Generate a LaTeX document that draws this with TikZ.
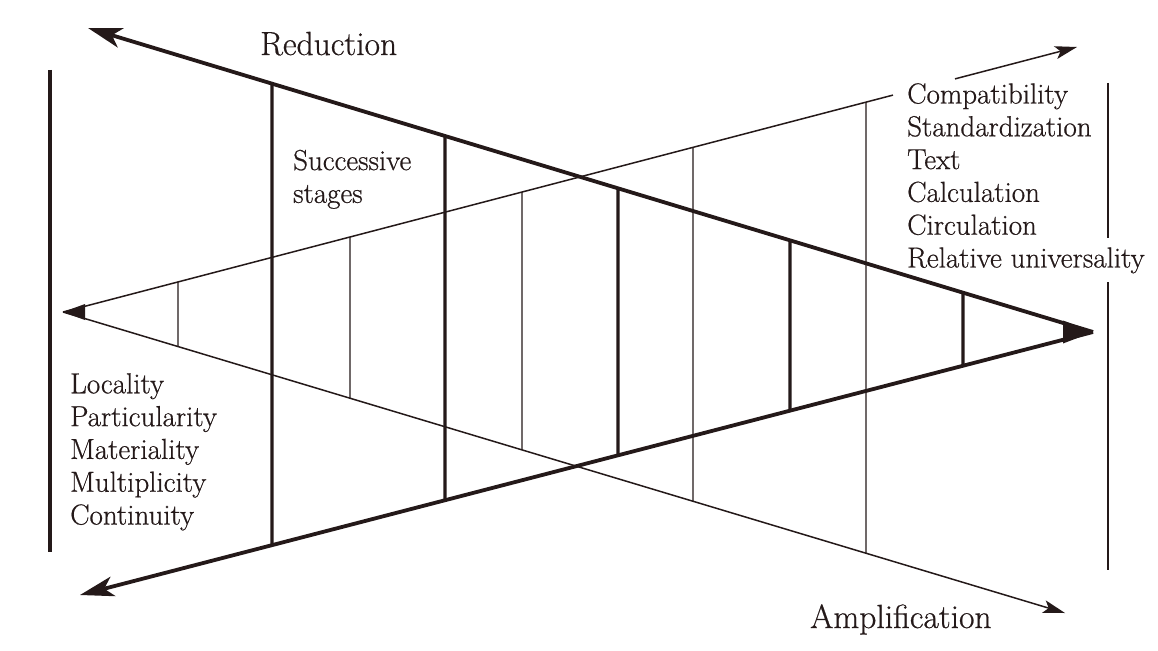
\documentclass[tikz,border=0pt]{standalone}
\usepackage{fontspec}
\newfontfamily\labelfont{Latin Modern Roman}[FakeBold=0.6]
\usetikzlibrary{arrows.meta,calc}
\definecolor{ink}{rgb}{0.14,0.10,0.10}
\begin{document}
\begin{tikzpicture}[x=1pt,y=-1pt,
  thickline/.style={line width=3.8pt, draw=ink},
  thinline/.style={line width=1.5pt, draw=ink},
  stagethick/.style={line width=3.3pt, draw=ink},
  stagethin/.style={line width=1.4pt, draw=ink},
  bigtip/.style={-{Stealth[length=34pt,width=20pt,inset=9pt]}},
  smalltip/.style={-{Stealth[length=22pt,width=13pt,inset=5pt]}},
  title/.style={font=\labelfont\fontsize{33.5}{38}\selectfont, text=ink, inner sep=0pt, anchor=base west},
  listtext/.style={font=\labelfont\fontsize{29}{32.8}\selectfont, text=ink, inner sep=0pt, align=left, anchor=north west}]
\useasboundingbox (0,0) rectangle (1158,650);
\fill[white] (0,0) rectangle (1158,650);
% key points
\coordinate (TL) at (88,28);
\coordinate (R)  at (1093,332);
\coordinate (BL) at (80,595);
\coordinate (L)  at (63,312);
\coordinate (UR) at (1077,47);
\coordinate (LR) at (1065,613);
\coordinate (G1) at ($(L)!0.8185!(UR)$);
\coordinate (G2) at ($(L)!0.8797!(UR)$);
% side bars
\coordinate (lbA) at (50,70);
\coordinate (lbB) at (50,552);
\draw[line width=3.3pt, draw=ink] (lbA) -- (lbB);
\coordinate (rbA) at (1108,83);
\coordinate (rbB) at (1108,238);
\coordinate (rbC) at (1108,282);
\coordinate (rbD) at (1108,570);
\draw[line width=1.5pt, draw=ink] (rbA) -- (rbB);
\draw[line width=1.5pt, draw=ink] (rbC) -- (rbD);
% stage lines (thick, between the thick lines)
\foreach \x [count=\i] in {272,445,618,790,963} {
  \coordinate (ta\i) at (intersection of TL--R and \x,0--\x,700);
  \coordinate (tb\i) at (intersection of BL--R and \x,0--\x,700);
  \draw[stagethick] (ta\i) -- (tb\i);
}
% stage lines (thin, between the thin lines)
\foreach \x [count=\i] in {178,350,522,693,866} {
  \coordinate (sa\i) at (intersection of L--UR and \x,0--\x,700);
  \coordinate (sb\i) at (intersection of L--LR and \x,0--\x,700);
  \draw[stagethin] (sa\i) -- (sb\i);
}
% thin lines (amplification)
\draw[thinline] (L) -- (G1);
\draw[thinline, smalltip] (G2) -- (UR);
\draw[thinline, smalltip] (L) -- (LR);
\fill[ink] (L) -- ++(22,8) -- ++(0,-16) -- cycle;
% thick lines (reduction)
\draw[thickline, bigtip] (R) -- (TL);
\draw[thickline, bigtip] (R) -- (BL);
\fill[ink] (R) -- ++(-30,-11.5) -- ++(0,23) -- cycle;
% labels
\node[title] (red) at (260,55) {Reduction};
\node[title] (amp) at (810,628) {Amplification};
\node[listtext] (succ) at (293,149.6) {Successive\\stages};
\node[listtext] (right) at (907,83) {Compatibility\\Standardization\\Text\\Calculation\\Circulation\\Relative universality};
\node[listtext] (left) at (70,373) {Locality\\Particularity\\Materiality\\Multiplicity\\Continuity};
\end{tikzpicture}
\end{document}
